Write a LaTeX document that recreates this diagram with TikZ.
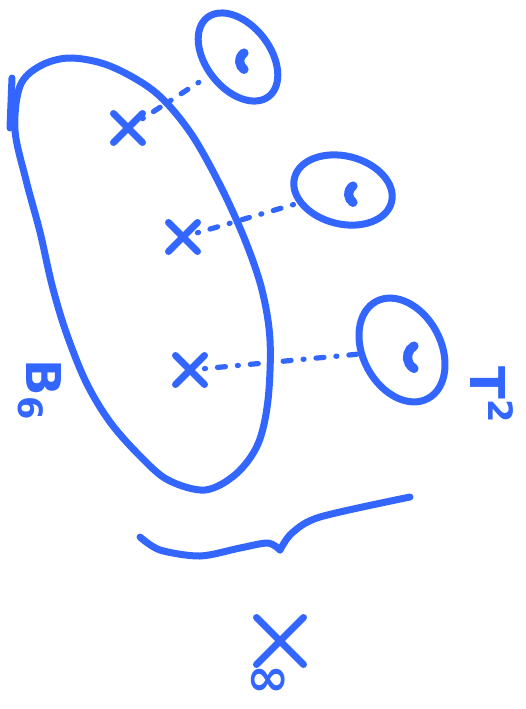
\documentclass[tikz,border=0pt]{standalone}
\usepackage{fontspec}
\setmainfont{DejaVu Sans}
\usetikzlibrary{shapes.misc,shapes.geometric,positioning}
\definecolor{ink}{HTML}{3366FF}
\tikzset{
  pen/.style={draw=ink, line width=3.5pt, line cap=round, line join=round},
  hole/.style={pen, ellipse, inner sep=0pt},
  bean/.style={draw=ink, line width=4.6pt, line cap=round},
  xpt/.style={pen, cross out, inner sep=0pt, minimum size=#1},
  link/.style={draw=ink, line width=2.6pt, line cap=round, dash pattern=on 0.5pt off 6pt on 4pt off 6pt},
  lbl/.style={text=ink, inner sep=0pt, font=\bfseries\fontsize{24}{28}\selectfont},
}
\begin{document}
\begin{tikzpicture}[x=0.5pt,y=-0.5pt]
  \useasboundingbox (0,0) rectangle (526,709);
  % the base
  \draw[pen] plot[smooth cycle, tension=0.55] coordinates {
    (15,130) (26,180) (40,232) (52,285) (66,332) (86,382) (110,422) (140,456)
    (168,480) (205,490) (236,474) (258,444) (268,400) (270,340) (262,290)
    (245,240) (220,185) (190,132) (155,92) (110,66) (70,58) (40,66) (20,86)};
  \draw[pen] (12,78) -- (10,128);
  % fibres
  \node[hole, minimum width=50pt, minimum height=32pt, rotate=-52] (h1) at (238,57) {};
  \node[hole, minimum width=50pt, minimum height=34pt, rotate=-14] (h2) at (343,190) {};
  \node[hole, minimum width=55pt, minimum height=39pt, rotate=-62] (h3) at (402,350) {};
  \draw[bean] ([shift={(3pt,2pt)}]h1.center) arc[start angle=125, end angle=235, radius=5pt];
  \draw[bean] ([shift={(5pt,2pt)}]h2.center) arc[start angle=125, end angle=235, radius=5pt];
  \draw[bean] ([shift={(6pt,2pt)}]h3.center) arc[start angle=120, end angle=240, radius=6.5pt];
  % points
  \node[xpt=11pt] (x1) at (128,128) {};
  \node[xpt=11pt] (x2) at (183,237) {};
  \node[xpt=11pt] (x3) at (190,370) {};
  \node[xpt=20pt] (xinf) at (280,641) {};
  \draw[link] (x1) -- (h1);
  \draw[link] (x2) -- (h2);
  \draw[link] (x3) -- (h3);
  % brace
  \draw[pen] plot[smooth, tension=0.5] coordinates {
    (140,537) (160,550) (200,556) (240,548) (268,543) (280,550)};
  \draw[pen] plot[smooth, tension=0.5] coordinates {
    (280,550) (292,533) (320,517) (410,497)};
  % labels
  \node[lbl, rotate=-90] (lb) at (40,390) {B\textsubscript{6}};
  \node[lbl, rotate=-90] (lt) at (492,395) {T\textsuperscript{2}};
  \node[lbl, font=\bfseries\fontsize{26}{30}\selectfont] (linf) at (268,682) {∞};
\end{tikzpicture}
\end{document}
